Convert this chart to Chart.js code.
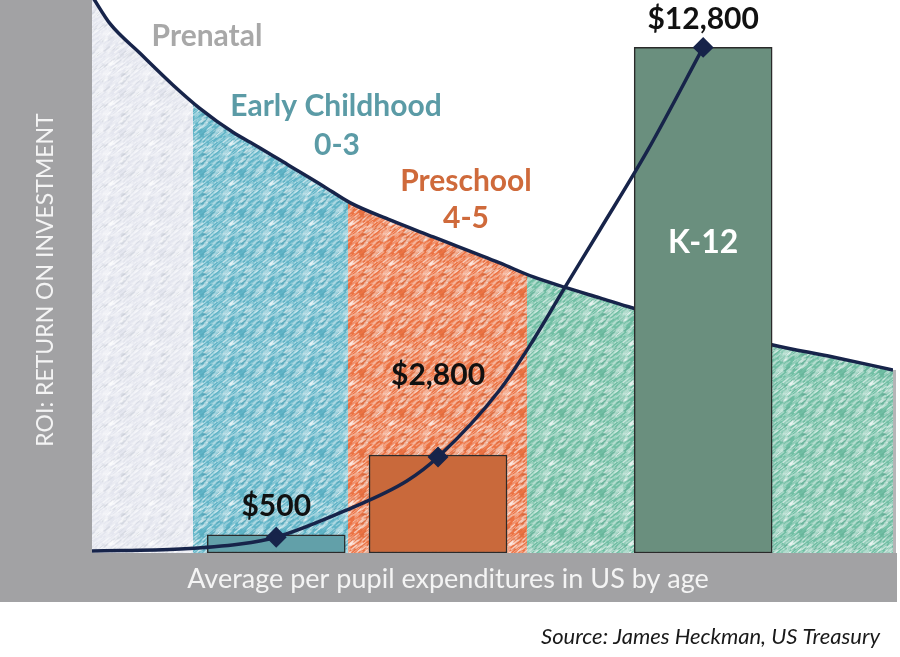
<!DOCTYPE html>
<html>
<head>
<meta charset="utf-8">
<script src="https://cdn.jsdelivr.net/npm/chart.js@4.4.0/dist/chart.umd.min.js"></script>
<style>
  html, body { margin: 0; padding: 0; background: #fff; }
  #wrap { width: 900px; height: 657px; }
</style>
</head>
<body>
<div id="wrap"><canvas id="roiChart" width="900" height="657"></canvas></div>
<script>
// x: position along the age span (0 = start of prenatal, 100 = right edge)
// y: dollars per pupil
const stageNames = ['Prenatal', 'Early Childhood', 'Preschool', 'K-12'];
const stageBounds = [0, 12.6, 32.0, 54.3, 100];

const barX = [23.0, 43.2, 76.3];
const barValues = [460, 2480, 12800];
const barLabels = ['$500', '$2,800', '$12,800'];

// spending curve (rises through the bars)
const spendX = [0, 11.0, 18.5, 23.0, 31.8, 39.3, 43.2, 50.9, 55.1, 59.0, 63.4, 69.4, 76.3];
const spendY = [51, 101, 228, 400, 1089, 1823, 2430, 4127, 5393, 6710, 8178, 10204, 12800];

// ROI curve (falls with age)
const roiX = [0, 2.25, 6.0, 10.1, 13.5, 17.6, 20.6, 24.7, 28.8, 32.2, 37.2, 42.6, 50.9, 55.1, 59.3, 63.4, 67.5, 85.0, 92.5, 100];
const roiY = [14100, 13400, 12650, 11850, 11250, 10650, 10300, 9800, 9300, 8870, 8432, 8001, 7343, 6988, 6710, 6457, 6203, 5267, 4963, 4634];

const NAVY = '#17244a';
const FRAME = '#a2a2a4';
const FONT = 'Lato, "Open Sans", sans-serif';

function zip(xs, ys) {
  return xs.map((x, i) => ({ x, y: ys[i] }));
}

// fine sketchy strokes laid over the stage colours
function makeHatch() {
  const size = 40;
  const c = document.createElement('canvas');
  c.width = size;
  c.height = size;
  const g = c.getContext('2d');
  g.lineCap = 'round';
  let seed = 11;
  const next = () => {
    seed = (seed * 9301 + 49297) % 233280;
    return seed / 233280;
  };
  for (let i = 0; i < 220; i++) {
    const x = next() * size;
    const y = next() * size;
    const len = 3 + next() * 6;
    const light = next() < 0.8;
    g.strokeStyle = light
      ? `rgba(255,255,255,${0.18 + next() * 0.3})`
      : `rgba(0,40,50,${0.03 + next() * 0.05})`;
    g.lineWidth = 0.9 + next() * 0.8;
    for (const dx of [-size, 0, size]) {
      for (const dy of [-size, 0, size]) {
        g.beginPath();
        g.moveTo(x + dx, y + dy);
        g.lineTo(x + dx + len * 0.78, y + dy - len * 0.62);
        g.stroke();
      }
    }
  }
  return g.createPattern(c, 'repeat');
}

const stageFill = ['#e4e6ef', '#5fb4c7', '#ec7242', '#6fbea3'];

function stageGradient(context) {
  const chart = context.chart;
  const area = chart.chartArea;
  if (!area) return null;
  const xs = chart.scales.x;
  const grad = chart.ctx.createLinearGradient(area.left, 0, area.right, 0);
  for (let i = 0; i < stageFill.length; i++) {
    const p0 = (xs.getPixelForValue(stageBounds[i]) - area.left) / area.width;
    const p1 = (xs.getPixelForValue(stageBounds[i + 1]) - area.left) / area.width;
    grad.addColorStop(Math.max(0, Math.min(1, p0)), stageFill[i]);
    grad.addColorStop(Math.max(0, Math.min(1, p1)), stageFill[i]);
  }
  return grad;
}

const framePlugin = {
  id: 'frame',
  beforeDraw(chart) {
    const { ctx, chartArea: area, scales } = chart;
    ctx.save();
    ctx.fillStyle = '#fff';
    ctx.fillRect(0, 0, chart.width, chart.height);
    ctx.fillStyle = FRAME;
    ctx.fillRect(0, 0, area.left, area.bottom + 49);
    ctx.fillRect(0, area.bottom, area.right + 4, 49);
    // thin edge on the right, below the ROI curve
    const yEnd = scales.y.getPixelForValue(roiY[roiY.length - 1]);
    ctx.fillStyle = '#b4b4b6';
    ctx.fillRect(area.right, yEnd, 3, area.bottom - yEnd);

    ctx.fillStyle = '#f4f4f4';
    ctx.font = `23px ${FONT}`;
    ctx.textAlign = 'center';
    ctx.textBaseline = 'middle';
    ctx.translate(46, area.top + 280);
    ctx.rotate(-Math.PI / 2);
    ctx.fillText('ROI: RETURN ON INVESTMENT', 0, 0);
    ctx.restore();

    ctx.save();
    ctx.fillStyle = '#f4f4f4';
    ctx.font = `27px ${FONT}`;
    ctx.textAlign = 'center';
    ctx.textBaseline = 'middle';
    ctx.fillText('Average per pupil expenditures in US by age', 448, area.bottom + 26);
    ctx.fillStyle = '#1a1a1a';
    ctx.font = `italic 22px ${FONT}`;
    ctx.textAlign = 'right';
    ctx.fillText('Source: James Heckman, US Treasury', 880, area.bottom + 84);
    ctx.restore();
  },
  afterDatasetsDraw(chart) {
    const { ctx, scales } = chart;
    const x = scales.x, y = scales.y;
    ctx.save();
    ctx.textAlign = 'center';
    ctx.textBaseline = 'middle';
    ctx.font = `bold 30px ${FONT}`;

    // stage names
    ctx.fillStyle = '#a8a8a8';
    ctx.fillText(stageNames[0], 207, 36);
    ctx.fillStyle = '#5b9ba6';
    ctx.fillText(stageNames[1], 336, 106);
    ctx.fillText('0-3', 337, 145);
    ctx.fillStyle = '#cf6a3b';
    ctx.fillText(stageNames[2], 466, 181);
    ctx.fillText('4-5', 466, 218);
    ctx.font = `bold 32px ${FONT}`;
    ctx.fillStyle = '#ffffff';
    ctx.fillText(stageNames[3], x.getPixelForValue(barX[2]), 243);

    // value labels above the bars
    ctx.font = `bold 30px ${FONT}`;
    ctx.fillStyle = '#111';
    const offsets = [29, 80, 28];
    barLabels.forEach((label, i) => {
      const px = x.getPixelForValue(barX[i]);
      const py = y.getPixelForValue(barValues[i]) - offsets[i];
      ctx.fillText(label, px, py);
    });
    ctx.restore();
  },
};

const hatch = makeHatch();
const ctx = document.getElementById('roiChart').getContext('2d');

new Chart(ctx, {
  type: 'line',
  data: {
    datasets: [
      {
        type: 'line',
        data: zip(spendX, spendY),
        borderColor: NAVY,
        borderWidth: 3.5,
        cubicInterpolationMode: 'monotone',
        pointStyle: 'rectRot',
        pointRadius: (c) => (barX.includes(spendX[c.dataIndex]) ? 8 : 0),
        pointBackgroundColor: NAVY,
        pointBorderColor: NAVY,
        fill: false,
        order: 0,
      },
      {
        type: 'bar',
        data: zip(barX, barValues),
        backgroundColor: ['#62a0a9', '#c9693b', '#6a8f7e'],
        borderColor: '#2a2a2a',
        borderWidth: 1.5,
        borderSkipped: false,
        barThickness: 138,
        order: 1,
      },
      {
        type: 'line',
        data: zip(roiX, roiY),
        borderColor: NAVY,
        borderWidth: 3.5,
        cubicInterpolationMode: 'monotone',
        pointRadius: 0,
        backgroundColor: hatch,
        fill: 'origin',
        order: 2,
      },
      {
        type: 'line',
        data: zip(roiX, roiY),
        borderWidth: 0,
        cubicInterpolationMode: 'monotone',
        pointRadius: 0,
        backgroundColor: stageGradient,
        fill: 'origin',
        order: 3,
      },
    ],
  },
  options: {
    responsive: false,
    animation: false,
    devicePixelRatio: 1,
    layout: { autoPadding: false, padding: { left: 92, right: 7, top: 0, bottom: 104 } },
    scales: {
      x: { type: 'linear', min: 0, max: 100, offset: false, display: false },
      y: { min: 0, max: 14000, display: false },
    },
    plugins: {
      legend: { display: false },
      tooltip: { enabled: false },
    },
  },
  plugins: [framePlugin],
});
</script>
</body>
</html>
